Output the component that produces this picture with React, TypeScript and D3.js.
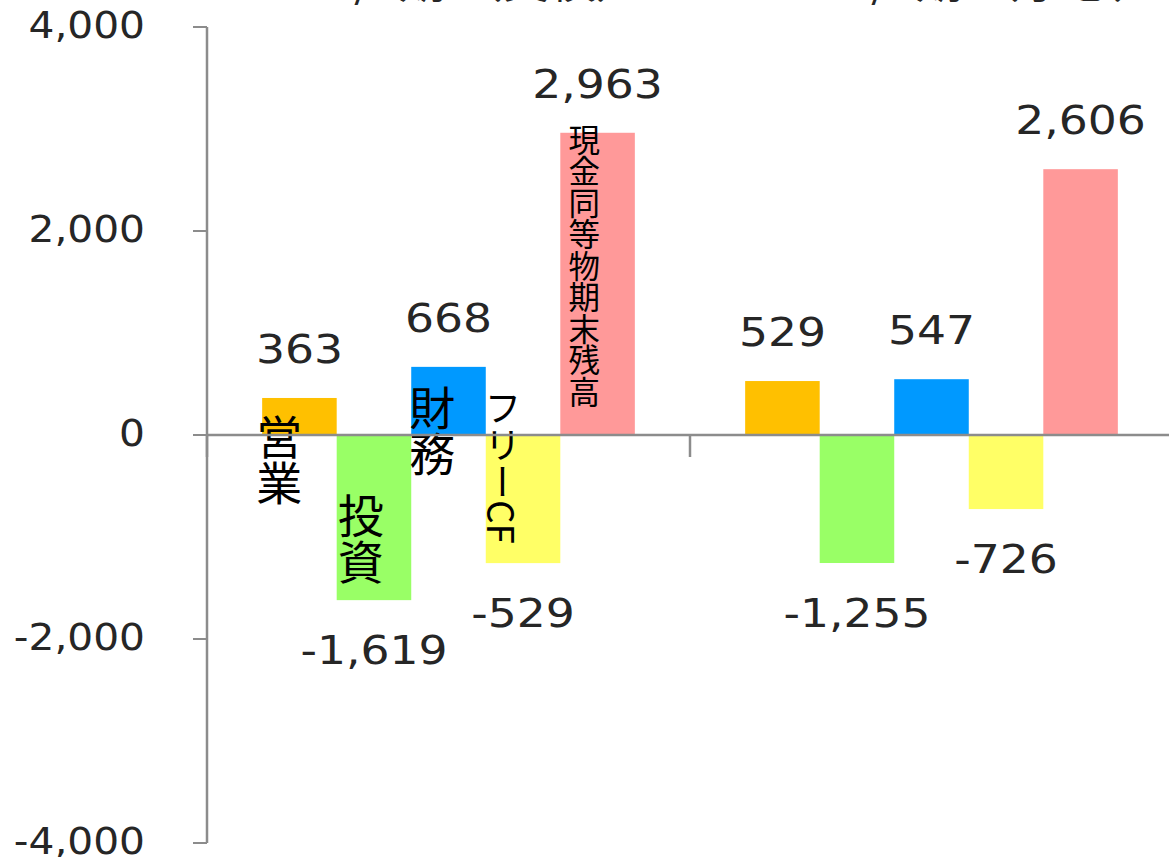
import React from "react";
import * as d3 from "d3";

// Cash-flow summary for two fiscal periods
const periods = ["2023/3期 （実績）", "2024/3期 （予想）"];
const seriesNames = ["営業", "投資", "財務", "フリーCF", "現金同等物期末残高"];
const seriesColors = ["#FFC000", "#99FF66", "#0099FF", "#FFFF66", "#FF9999"];
const valuesFirst = [363, -1619, 668, -1256, 2963];
const valuesSecond = [529, -1255, 547, -726, 2606];
const labelsFirst = ["363", "-1,619", "668", "-529", "2,963"];
const labelsSecond = ["529", "-1,255", "547", "-726", "2,606"];
const yTicks = [-4000, -2000, 0, 2000, 4000];

const W = 1169;
const H = 857;

export default function App() {
  const y = d3.scaleLinear().domain([-4000, 4000]).range([843, 27]);
  const x0 = d3.scaleBand<string>().domain(periods).range([207, 1173]);
  const x1 = d3
    .scaleBand<string>()
    .domain(seriesNames)
    .range([0, x0.bandwidth()])
    .paddingInner(0)
    .paddingOuter(0.74);
  const fmt = (v: number) => d3.format(",")(v).replace("\u2212", "-");
  const axisColor = "#8c8c8c";
  const numFont = "'DejaVu Sans', Verdana, sans-serif";
  const jpFont = "'Noto Sans CJK JP', 'Noto Sans', sans-serif";
  const sx = 1.17;

  const rows = [
    { period: periods[0], values: valuesFirst, labels: labelsFirst },
    { period: periods[1], values: valuesSecond, labels: labelsSecond },
  ];

  // series names written vertically inside the first period's bars
  const nameLayout = [
    { dx: 17, top: 414, size: 46 },
    { dx: 24, top: 493, size: 46 },
    { dx: 21, top: 385, size: 46 },
    { dx: 17, top: 389, size: 37 },
    { dx: 24, top: 124, size: 31.5 },
  ];

  return (
    <svg
      width={W}
      height={H}
      style={{ position: "absolute", left: 0, top: 0, background: "#fff" }}
    >
      {/* period titles, running off the top edge */}
      {periods.map((p, i) => (
        <text
          key={p}
          transform={`translate(${x0(p)! + x0.bandwidth() / 2 + (i === 0 ? -2 : 32)},-2) scale(${sx},1)`}
          textAnchor="middle"
          fontFamily={jpFont}
          fontSize={40}
          fill="#262626"
        >
          {p}
        </text>
      ))}

      {/* bars */}
      {rows.map((r) =>
        r.values.map((v, j) => {
          const xs = x0(r.period)! + x1(seriesNames[j])!;
          const top = y(Math.max(0, v));
          const bottom = y(Math.min(0, v));
          return (
            <rect
              key={r.period + j}
              x={xs}
              y={top}
              width={x1.bandwidth()}
              height={bottom - top}
              fill={seriesColors[j]}
            />
          );
        })
      )}

      {/* value labels */}
      {rows.map((r) =>
        r.values.map((v, j) => {
          const cx = x0(r.period)! + x1(seriesNames[j])! + x1.bandwidth() / 2;
          const by = v >= 0 ? y(v) - 35 : y(v) + 64;
          return (
            <text
              key={"l" + r.period + j}
              transform={`translate(${cx},${by}) scale(${sx},1)`}
              textAnchor="middle"
              fontFamily={numFont}
              fontSize={39}
              fill="#262626"
            >
              {r.labels[j]}
            </text>
          );
        })
      )}

      {/* series names */}
      {seriesNames.map((n, j) => {
        const L = nameLayout[j];
        const cx = x0(periods[0])! + x1(n)! + L.dx;
        return (
          <text
            key={"n" + n}
            x={cx}
            y={L.top}
            fontFamily={jpFont}
            fontSize={L.size}
            fill="#000"
            style={{ writingMode: "vertical-rl" }}
          >
            {n}
          </text>
        );
      })}

      {/* y axis */}
      <line x1={207} x2={207} y1={y(4000)} y2={y(-4000)} stroke={axisColor} strokeWidth={2.5} />
      {yTicks.map((t) => (
        <g key={t}>
          <line x1={193} x2={207} y1={y(t)} y2={y(t)} stroke={axisColor} strokeWidth={2} />
          <text
            transform={`translate(145,${y(t) + 11}) scale(1.1,1)`}
            textAnchor="end"
            fontFamily={numFont}
            fontSize={37}
            fill="#262626"
          >
            {fmt(t)}
          </text>
        </g>
      ))}

      {/* category axis at zero */}
      <line x1={207} x2={W} y1={y(0)} y2={y(0)} stroke={axisColor} strokeWidth={2.5} />
      {periods.map((p) => (
        <line
          key={"t" + p}
          x1={x0(p)!}
          x2={x0(p)!}
          y1={y(0)}
          y2={y(0) + 22}
          stroke={axisColor}
          strokeWidth={2.5}
        />
      ))}
    </svg>
  );
}
